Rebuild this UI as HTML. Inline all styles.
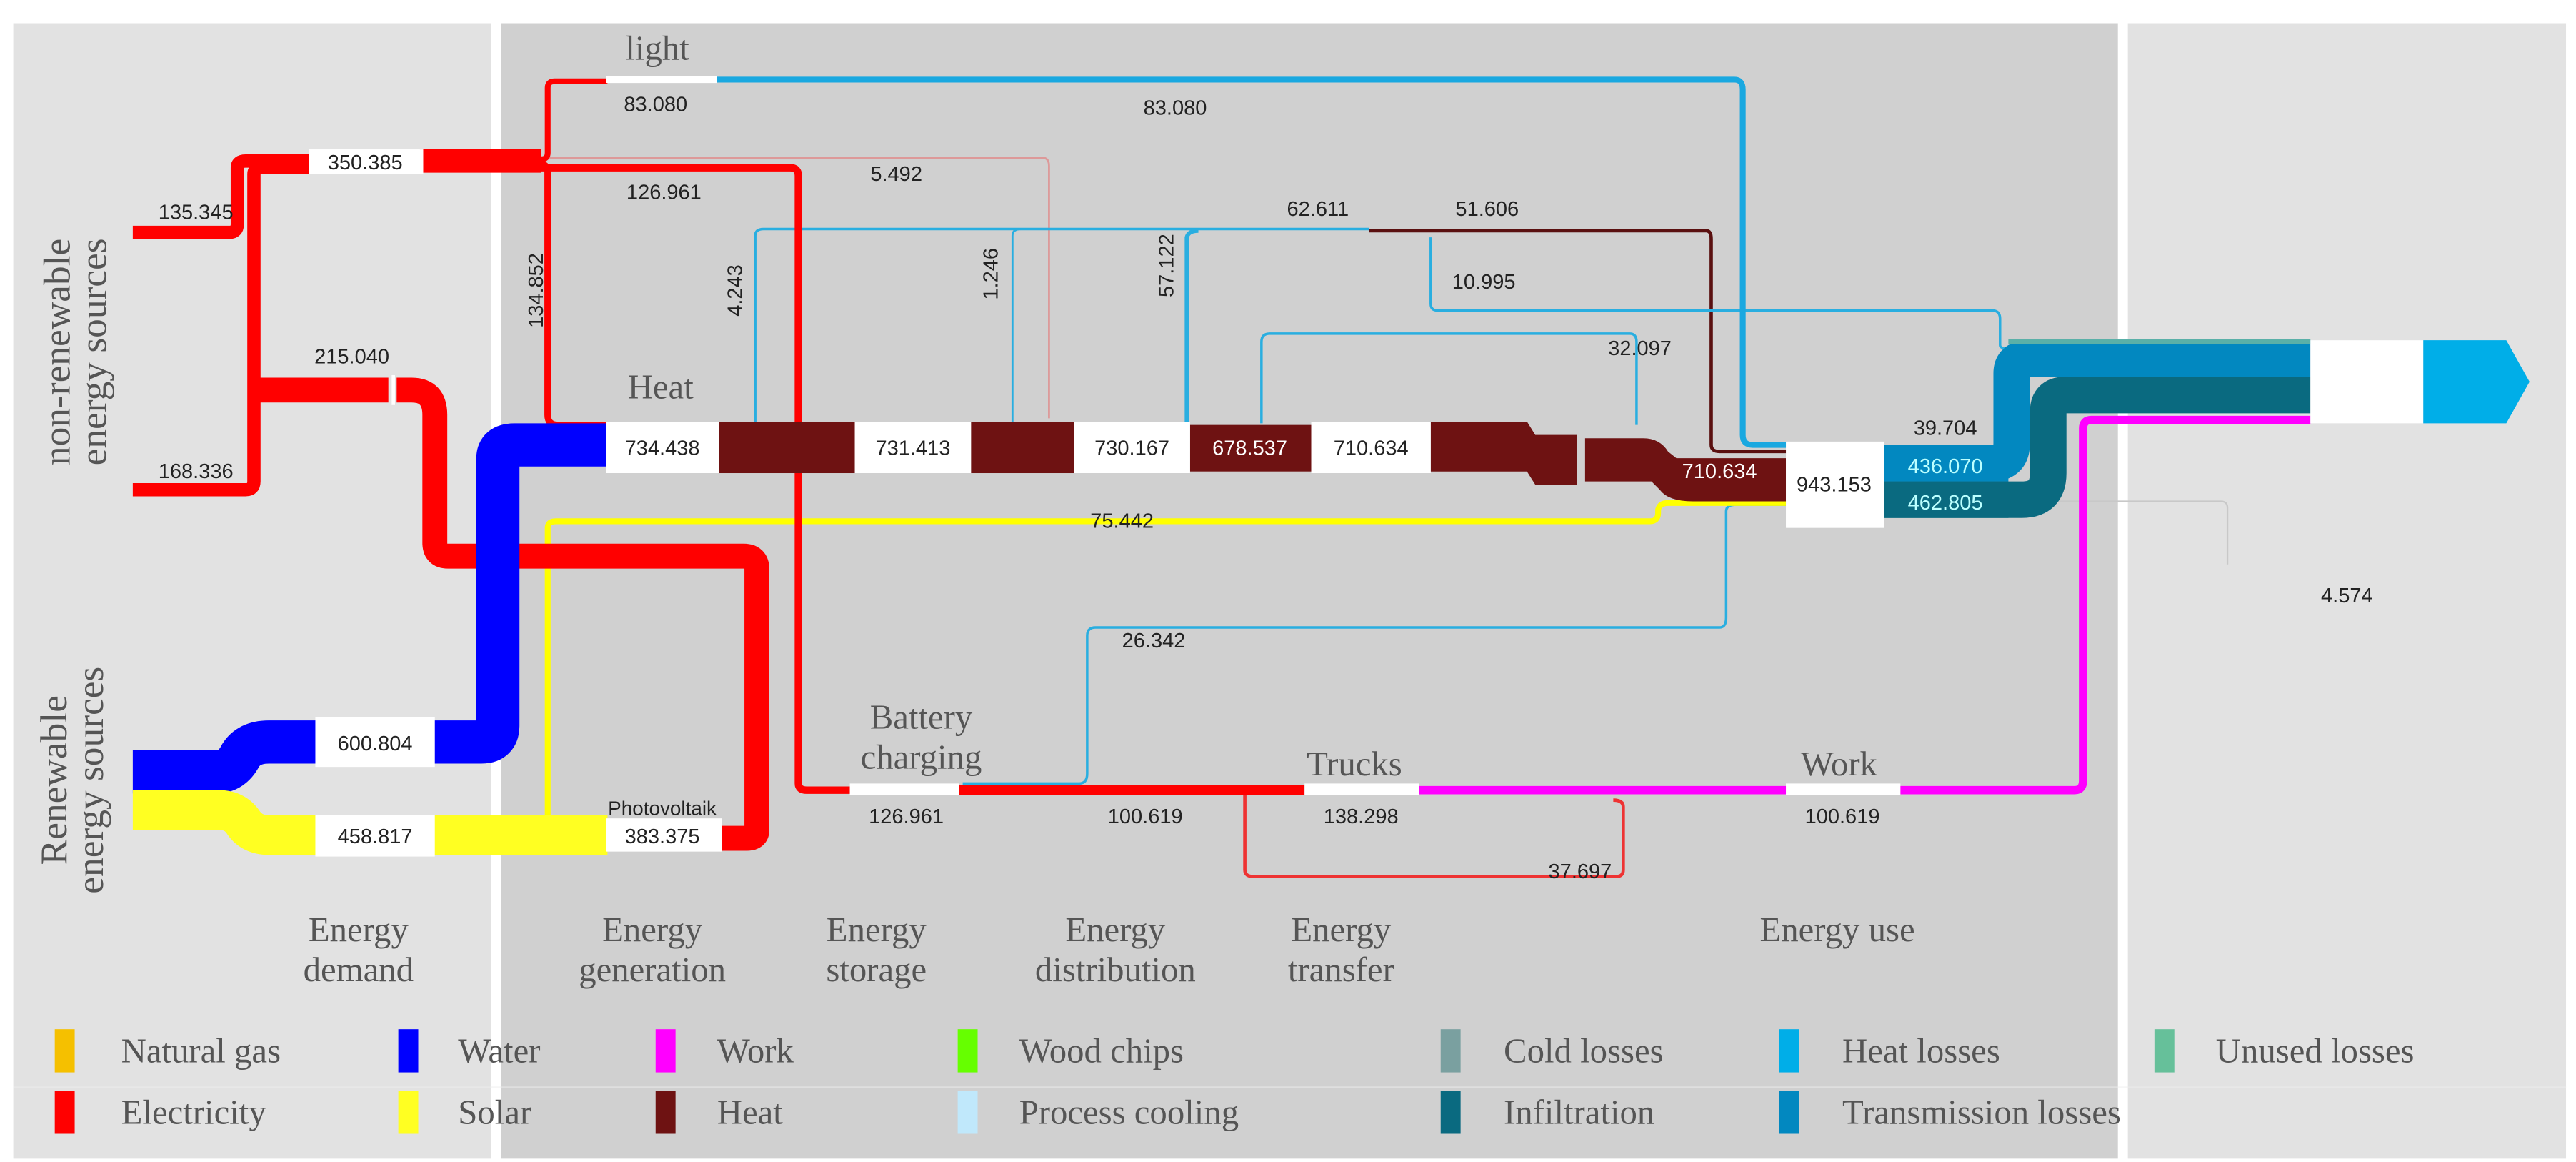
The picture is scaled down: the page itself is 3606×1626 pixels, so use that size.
<!DOCTYPE html>
<html><head><meta charset="utf-8"><style>
html,body{margin:0;padding:0;background:#fff;}
svg{display:block;}
.n{font-family:"Liberation Sans",sans-serif;font-size:12.5px;fill:#222;}
.h{font-family:"Liberation Serif",serif;font-size:21px;fill:#555;}
.lg{font-family:"Liberation Serif",serif;font-size:21px;fill:#555;}
</style></head><body>
<svg width="3606" height="1626" viewBox="0 0 1552 700" preserveAspectRatio="none" xmlns="http://www.w3.org/2000/svg">
<rect width="1552" height="700" fill="#fff"/>
<rect x="8" y="14" width="288" height="684" fill="#e2e2e2"/>
<rect x="302" y="14" width="974" height="684" fill="#d0d0d0"/>
<rect x="1282" y="14" width="264" height="684" fill="#e2e2e2"/>
<line x1="8" y1="655" x2="1546" y2="655" stroke="#eee" stroke-width="1" opacity="0.5"/>

<g fill="none" stroke-linejoin="round">
<path d="M330 95 H628 Q632 95 632 100 V252" stroke="#d99" stroke-width="1.2"/>
<path d="M455 254 V142 Q455 138 460 138 H825" stroke="#29aee0" stroke-width="1.5"/>
<path d="M610 254 V142 Q610 138 615 138" stroke="#29aee0" stroke-width="1.2"/>
<path d="M715 254 V143 Q716 139 722 139" stroke="#29aee0" stroke-width="2.5"/>
<path d="M825 139 H1028 Q1031 139 1031 144 V268 Q1031 272 1036 272 H1078" stroke="#5a1010" stroke-width="2"/>
<path d="M862 143 V183 Q862 187 866 187 H1200 Q1205 187 1205 192 V208 Q1205 210 1210 210" stroke="#29aee0" stroke-width="1.5"/>
<path d="M760 255 V206 Q760 201 765 201 H982 Q986 201 986 206 V256" stroke="#29aee0" stroke-width="1.5"/>
<path d="M580 472 H650 Q655 472 655 466 V383 Q655 378 660 378 H1036 Q1040 378 1040 372 V308 Q1040 304 1046 304 H1078" stroke="#29aee0" stroke-width="1.5"/>
<path d="M330 505 V318 Q330 314 335 314 H994 Q999 314 999 309 V307 Q1000 303 1005 303 H1078" stroke="#ff0" stroke-width="3.5"/>
<path d="M1190 302 H1338 Q1342 302 1342 306 V340" stroke="#c8c8c8" stroke-width="1"/>
<path d="M750 478 V524 Q750 528 755 528 H974 Q978 528 978 524 V486 Q978 482 972 482" stroke="#e33" stroke-width="2"/>
<path d="M432 48 H1045 Q1050 48 1050 54 V262 Q1050 268 1056 268 H1078" stroke="#1aa8e0" stroke-width="3.5"/>
<path d="M80 140 H138 Q143 140 143 135 V101 Q143 97 148 97 H186" stroke="#f00" stroke-width="8"/>
<path d="M80 295 H148 Q153 295 153 290 V105 Q153 101 158 101 H186" stroke="#f00" stroke-width="8"/>
<path d="M156 235 H234 M239 235 H248 Q262 235 262 250 V327 Q262 335 270 335 H448 Q456 335 456 343 V500 Q456 505 450 505 H434" stroke="#f00" stroke-width="15"/>
<path d="M253 97 H326" stroke="#f00" stroke-width="14"/>
<path d="M326 96 Q330 96 330 92 V53 Q330 49 334 49 H366" stroke="#f00" stroke-width="3.5"/>
<path d="M326 101 H476 Q481 101 481 106 V472 Q481 476 486 476 H512" stroke="#f00" stroke-width="4.5"/>
<path d="M326 99 Q330 99 330 104 V250 Q330 256 336 256 H366" stroke="#f00" stroke-width="4"/>
<path d="M578 476 H786" stroke="#f00" stroke-width="6"/>
<path d="M80 465 H130 Q140 465 145 455 Q150 447 162 447 H290 Q300 447 300 437 V276 Q300 268 310 268 H366" stroke="#00f" stroke-width="26"/>
<path d="M80 488 H132 Q142 488 147 496 Q152 503 162 503 H366" stroke="#ff2" stroke-width="24"/>
<path d="M855 476 H1250 Q1255 476 1255 470 V258 Q1255 253 1260 253 H1392" stroke="#f0f" stroke-width="5"/>
<path d="M1135 301 H1218 Q1234 301 1234 285 V248 Q1234 238 1244 238 H1392" stroke="#0a6a80" stroke-width="22"/>
<path d="M1135 279 H1200 Q1212 279 1212 267 V225 Q1212 216 1222 216 H1392" stroke="#0288c0" stroke-width="22"/>
<path d="M1210 206 H1392" stroke="#5ab0a8" stroke-width="3"/>
</g>
<rect x="433" y="254" width="82" height="31" fill="#6e1212"/>
<rect x="585" y="254" width="62" height="31" fill="#6e1212"/>
<rect x="717" y="256" width="73" height="28" fill="#6e1212"/>
<path d="M862 254 H920 L925 262 H950 V292 H925 L920 284 H862 Z" fill="#6e1212"/>
<path d="M955 264 H990 Q1000 264 1005 272 L1010 276 H1076 V302 H1020 Q1005 302 1000 295 L995 290 H955 Z" fill="#6e1212"/>
<g fill="#fff">
<rect x="186" y="90" width="69" height="15"/>
<rect x="190" y="432" width="72" height="30"/>
<rect x="190" y="491" width="72" height="25"/>
<rect x="365" y="46" width="67" height="4"/>
<rect x="365" y="254" width="68" height="31"/>
<rect x="515" y="254" width="70" height="31"/>
<rect x="647" y="254" width="70" height="31"/>
<rect x="790" y="254" width="72" height="31"/>
<rect x="1076" y="266" width="59" height="52"/>
<rect x="365" y="493" width="70" height="20"/>
<rect x="512" y="472" width="66" height="7"/>
<rect x="786" y="472" width="69" height="7"/>
<rect x="1076" y="472" width="69" height="7"/>
<rect x="1392" y="205" width="68" height="50"/>
</g>
<rect x="236" y="226" width="2" height="18" fill="#fff"/>
<path d="M1460 205 H1510 L1524 230 L1510 255 H1460 Z" fill="#00aee8"/>
<rect x="1135" y="268" width="75" height="22" fill="#0288c0"/>
<rect x="1135" y="290" width="75" height="22" fill="#0a6a80"/>

<g class="n">
<text x="395" y="67" text-anchor="middle">83.080</text>
<text x="708" y="69" text-anchor="middle">83.080</text>
<text x="220" y="102" text-anchor="middle">350.385</text>
<text x="118" y="132" text-anchor="middle">135.345</text>
<text x="400" y="120" text-anchor="middle">126.961</text>
<text x="540" y="109" text-anchor="middle">5.492</text>
<text x="212" y="219" text-anchor="middle">215.040</text>
<text x="118" y="288" text-anchor="middle">168.336</text>
<text x="794" y="130" text-anchor="middle">62.611</text>
<text x="896" y="130" text-anchor="middle">51.606</text>
<text x="894" y="174" text-anchor="middle">10.995</text>
<text x="988" y="214" text-anchor="middle">32.097</text>
<text x="399" y="274" text-anchor="middle">734.438</text>
<text x="550" y="274" text-anchor="middle">731.413</text>
<text x="682" y="274" text-anchor="middle">730.167</text>
<text x="753" y="274" text-anchor="middle" fill="#fff">678.537</text>
<text x="826" y="274" text-anchor="middle">710.634</text>
<text x="1036" y="288" text-anchor="middle" fill="#fff">710.634</text>
<text x="1105" y="296" text-anchor="middle">943.153</text>
<text x="1172" y="262" text-anchor="middle">39.704</text>
<text x="1172" y="285" text-anchor="middle" fill="#bff">436.070</text>
<text x="1172" y="307" text-anchor="middle" fill="#bff">462.805</text>
<text x="676" y="318" text-anchor="middle">75.442</text>
<text x="1414" y="363" text-anchor="middle">4.574</text>
<text x="676" y="390" text-anchor="start">26.342</text>
<text x="226" y="452" text-anchor="middle">600.804</text>
<text x="226" y="508" text-anchor="middle">458.817</text>
<text x="399" y="491" text-anchor="middle" font-size="12">Photovoltaik</text>
<text x="399" y="508" text-anchor="middle">383.375</text>
<text x="546" y="496" text-anchor="middle">126.961</text>
<text x="690" y="496" text-anchor="middle">100.619</text>
<text x="820" y="496" text-anchor="middle">138.298</text>
<text x="1110" y="496" text-anchor="middle">100.619</text>
<text x="952" y="529" text-anchor="middle">37.697</text>
<text transform="translate(327,175) rotate(-90)" text-anchor="middle">134.852</text>
<text transform="translate(447,175) rotate(-90)" text-anchor="middle">4.243</text>
<text transform="translate(601,165) rotate(-90)" text-anchor="middle">1.246</text>
<text transform="translate(707,160) rotate(-90)" text-anchor="middle">57.122</text>
</g>
<g class="h" text-anchor="middle">
<text x="396" y="36">light</text>
<text x="398" y="240">Heat</text>
<text x="555" y="439">Battery</text>
<text x="555" y="463">charging</text>
<text x="816" y="467">Trucks</text>
<text x="1108" y="467">Work</text>
<text x="216" y="567">Energy</text><text x="216" y="591">demand</text>
<text x="393" y="567">Energy</text><text x="393" y="591">generation</text>
<text x="528" y="567">Energy</text><text x="528" y="591">storage</text>
<text x="672" y="567">Energy</text><text x="672" y="591">distribution</text>
<text x="808" y="567">Energy</text><text x="808" y="591">transfer</text>
<text x="1107" y="567">Energy use</text>
<text transform="translate(42,212) rotate(-90)" font-size="23">non-renewable</text>
<text transform="translate(64,212) rotate(-90)" font-size="23">energy sources</text>
<text transform="translate(40,470) rotate(-90)" font-size="23">Renewable</text>
<text transform="translate(62,470) rotate(-90)" font-size="23">energy sources</text>
</g>
<g class="lg">
<rect x="33" y="620" width="12" height="26" fill="#f5c000"/><text x="73" y="640">Natural gas</text>
<rect x="240" y="620" width="12" height="26" fill="#00f"/><text x="276" y="640">Water</text>
<rect x="395" y="620" width="12" height="26" fill="#f0f"/><text x="432" y="640">Work</text>
<rect x="577" y="620" width="12" height="26" fill="#66ff00"/><text x="614" y="640">Wood chips</text>
<rect x="868" y="620" width="12" height="26" fill="#7aa0a0"/><text x="906" y="640">Cold losses</text>
<rect x="1072" y="620" width="12" height="26" fill="#00aee8"/><text x="1110" y="640">Heat losses</text>
<rect x="1298" y="620" width="12" height="26" fill="#66c09a"/><text x="1335" y="640">Unused losses</text>
<rect x="33" y="657" width="12" height="26" fill="#f00"/><text x="73" y="677">Electricity</text>
<rect x="240" y="657" width="12" height="26" fill="#ff2"/><text x="276" y="677">Solar</text>
<rect x="395" y="657" width="12" height="26" fill="#6e1212"/><text x="432" y="677">Heat</text>
<rect x="577" y="657" width="12" height="26" fill="#c0e8fb"/><text x="614" y="677">Process cooling</text>
<rect x="868" y="657" width="12" height="26" fill="#0a6a80"/><text x="906" y="677">Infiltration</text>
<rect x="1072" y="657" width="12" height="26" fill="#0288c0"/><text x="1110" y="677">Transmission losses</text>
</g>
</svg>
</body></html>
